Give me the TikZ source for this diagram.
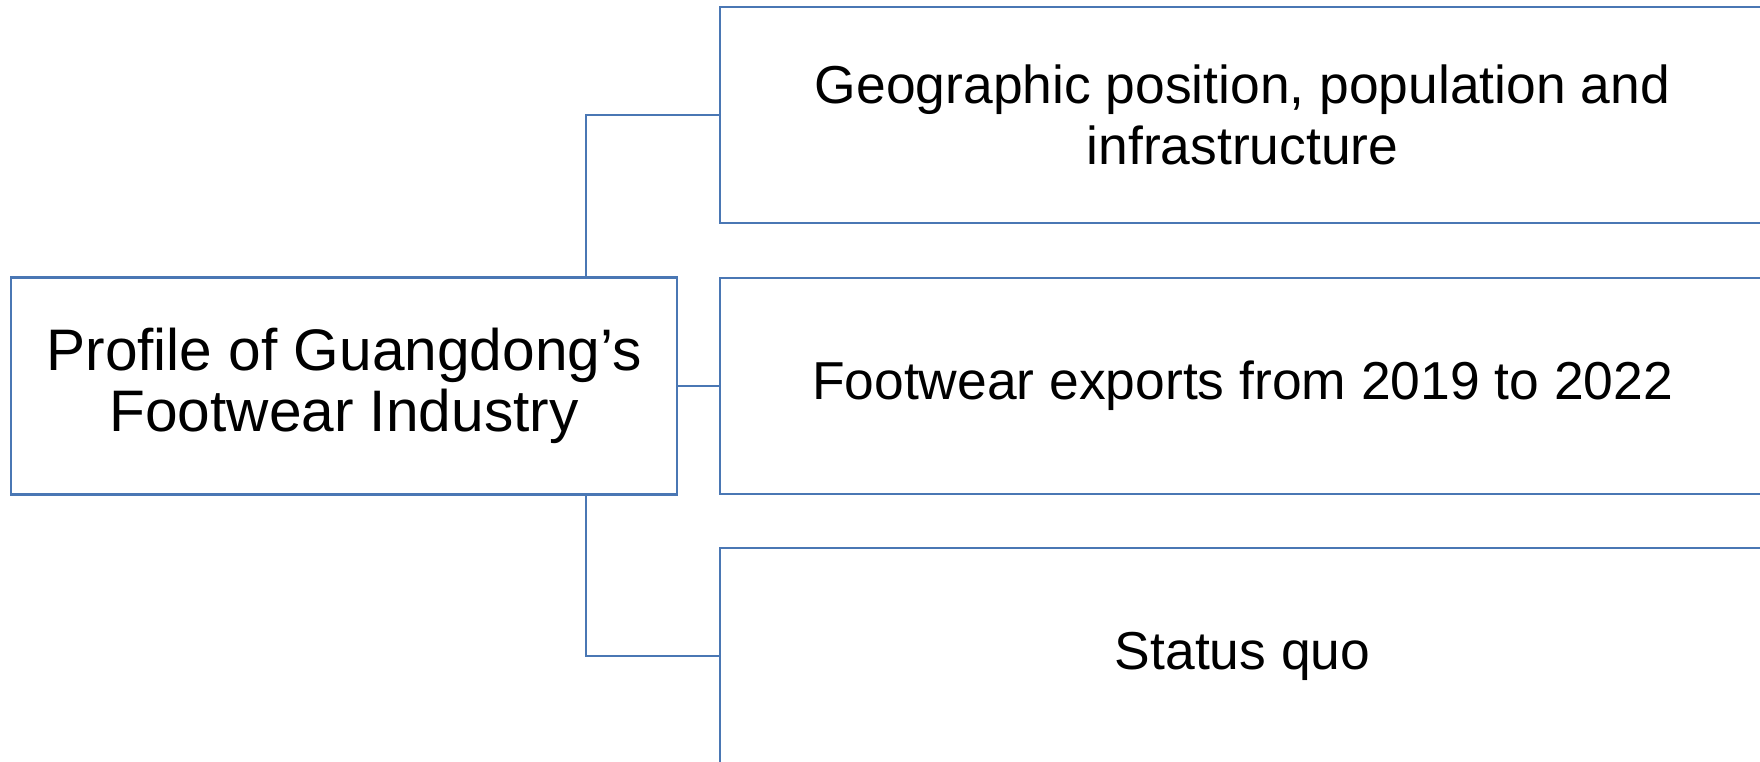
\documentclass[tikz,border=0pt]{standalone}
\usepackage{fontspec}
\setmainfont{Liberation Sans}
\usepackage{xcolor}
\definecolor{linkblue}{RGB}{74,119,180}
\usetikzlibrary{positioning,calc}

\begin{document}
\begin{tikzpicture}[x=0.5pt,y=-0.5pt,
    box/.style={draw=linkblue, line width=1.2pt, inner sep=0pt, align=center,
        font=\fontsize{26.7}{30.3}\selectfont},
    rootbox/.style={box, minimum width=333pt, minimum height=108.5pt,
        font=\fontsize{29.3}{30.3}\selectfont},
    leafbox/.style={box, minimum width=522.5pt, minimum height=108pt},
    link/.style={draw=linkblue, line width=1.2pt}]
    \useasboundingbox (0,0) rectangle (1760,761);
    \clip (0,0) rectangle (1760,761);

    % Root
    \node[rootbox] (profile) at (344,386) {Profile of Guangdong’s\\Footwear Industry};

    % Branches
    \node[leafbox] (geo) at (1242.5,115) {Geographic position, population and\\infrastructure};
    \node[leafbox] (exports) at (1242.5,386) {Footwear exports from 2019 to 2022};
    \node[leafbox] (status) at (1242.5,656) {Status quo};

    % Connectors
    \coordinate (trunk) at (586,0);
    \draw[link] (profile.north -| trunk) |- (geo.west);
    \draw[link] (profile.east) -- (exports.west);
    \draw[link] (profile.south -| trunk) |- (status.west);
\end{tikzpicture}
\end{document}
